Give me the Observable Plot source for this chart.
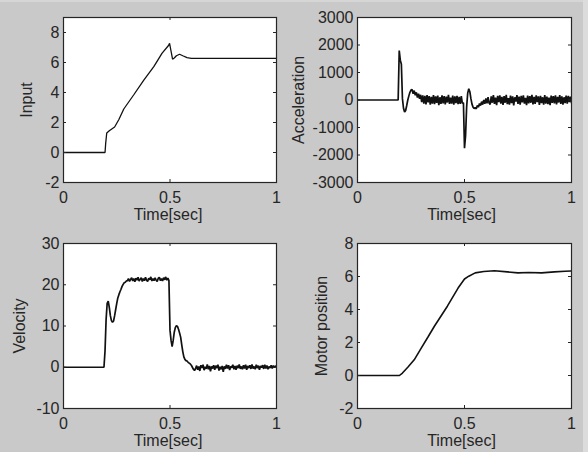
<!DOCTYPE html>
<html><head><meta charset="utf-8">
<script src="https://cdn.jsdelivr.net/npm/d3@7"></script>
<script src="https://cdn.jsdelivr.net/npm/@observablehq/plot@0.6"></script>
<style>
html,body{margin:0;padding:0;background:#c9c9c9;}
#root{position:relative;width:588px;height:452px;background:#c9c9c9;overflow:hidden;}
#root .cell{position:absolute;width:294px;height:226px;}
#edgeR{position:absolute;right:0;top:0;width:5px;height:452px;background:#dcdcdc;}
#edgeT{position:absolute;left:0;top:0;width:588px;height:2px;background:#d6d6d6;}
</style></head><body><div id="root"><div id="edgeT"></div><div id="edgeR"></div></div><script>
// ---------- shared axis data ----------
const xTicks = [0, 0.5, 1];
const xLabel = "Time[sec]";
const yLabels = ["Input", "Acceleration", "Velocity", "Motor position"];
const inputTicks = [-2, 0, 2, 4, 6, 8];
const inputDomain = [-2, 9];
const accTicks = [-3000, -2000, -1000, 0, 1000, 2000, 3000];
const accDomain = [-3000, 3000];
const velTicks = [-10, 0, 10, 20, 30];
const velDomain = [-10, 30];
const posTicks = [-2, 0, 2, 4, 6, 8];
const posDomain = [-2, 8];
const dt = 0.005; // sample period of recorded signals

// ---------- Input (reference) ----------
const inputT = [0, 0.195, 0.198, 0.203, 0.215, 0.24, 0.26, 0.283, 0.33, 0.377, 0.424, 0.463, 0.494, 0.498, 0.503, 0.512, 0.52, 0.53, 0.545, 0.56, 0.58, 0.6, 1.0];
const inputV = [0, 0, 0.6, 1.3, 1.45, 1.7, 2.2, 2.9, 3.85, 4.83, 5.72, 6.62, 7.15, 7.28, 6.9, 6.22, 6.3, 6.45, 6.55, 6.45, 6.32, 6.28, 6.28];

// ---------- Acceleration ----------
const accRestT = [0, 0.19];
const accRest = [0, 0];
const accKick1 = [1800, 1450, 1300, 50, -300, -440, -380, -200, 0, 150, 280, 360, 380, 230, 340, 170, 280, 90, 230, 40]; // from 0.195
const accNoise1 = [190, -80, 170, -130, 150, -160, 180, -90, 140, -170,
  110, -130, 180, -150, 130, -100, 160, -190, 100, -140,
  170, -120, 140, -160, 120, -90, 190, -140, 90, -130,
  160, -170, 130, -110, 150, -150, 110, -140, 140, -120]; // from 0.295
const accKick2 = [-100, -1750, -1300, -250, 250, 410, 300, 50, -150, -260, -310, -280, -320, -200, -260, -130, -200, -60, -170, 0, -140, 60, -120, 100, -110]; // from 0.495
const accNoise2 = [-160, 130, -100, 180, -140, 90, -190, 150, -80, 170,
  -130, 110, -180, 140, -100, 190, -150, 70, -170, 160,
  -110, 130, -200, 100, -60, 180, -140, 120, -170, 150,
  -90, 170, -130, 80, -190, 160, -120, 140, -100, 190,
  -160, 110, -140, 170, -80, 130, -180, 150, -110, 100,
  -170, 180, -130, 120, -150, 90, -190, 160, -100, 140,
  -120, 170, -160, 110, -90, 180, -140, 130, -170, 100,
  -110, 160, -130, 150, -80, 120, -100]; // from 0.62

// ---------- Velocity ----------
const velRestT = [0, 0.19];
const velRest = [0, 0];
const velRise = [4, 11.5, 15.5, 16, 14.5, 12.5, 11.3, 10.9, 11.2, 12.5, 14, 15.5, 16.8, 17.6, 18.3, 18.9, 19.6, 20.1, 20.5, 20.6, 20.9]; // from 0.195
const velPlateau = [21.0, 21.5, 20.8, 21.3, 21.7, 20.9, 21.5, 20.7, 21.6, 21.1,
  21.8, 20.9, 21.3, 21.7, 20.8, 21.5, 21.0, 21.8, 21.1, 20.8,
  21.6, 21.2, 21.9, 20.9, 21.5, 21.0, 21.7, 21.1, 20.8, 21.6,
  21.8, 21.0, 21.5, 20.9, 21.7, 21.2, 21.9, 21.1, 21.6, 21.0]; // from 0.3
const velFall = [9, 6.5, 5, 6.5, 8.5, 9.6, 10.1, 9.9, 9.2, 8.3, 7.3, 5.5, 3.8, 2.5, 1.9, 1.6, 1.5, 1.2, 1.0, 0.8, 0.5, 0.0, -0.5, -0.8]; // from 0.5
const velNoise = [-0.3, 0.4, -0.6, 0.2, -0.9, 0.5, -0.2, 0.6, -0.7, 0.1,
  -0.4, 0.7, -0.5, 0.3, -1.0, 0.2, -0.3, 0.5, -0.6, 0.4,
  -0.2, 0.6, -0.8, 0.1, -0.5, 0.3, -1.1, 0.2, -0.4, 0.6,
  -0.3, 0.5, -0.7, 0.2, -0.1, 0.6, -0.5, 0.3, -0.6, 0.4,
  -0.2, 0.7, -0.4, 0.2, -0.5, 0.5, -0.3, 0.6, -0.6, 0.3,
  -0.2, 0.5, -0.4, 0.7, -0.3, 0.2, -0.5, 0.6, -0.2, 0.4,
  -0.6, 0.3, -0.1, 0.5, -0.4, 0.6, -0.3, 0.4, -0.5, 0.2,
  -0.2, 0.5, -0.3, 0.4, -0.1, 0.3, 0.1]; // from 0.62

// ---------- Motor position ----------
const posT = [0, 0.196, 0.21, 0.235, 0.265, 0.295, 0.33, 0.36, 0.42, 0.47, 0.5, 0.52, 0.55, 0.59, 0.64, 0.7, 0.75, 0.8, 0.86, 0.92, 0.97, 1.0];
const posV = [0, 0, 0.15, 0.5, 0.95, 1.6, 2.35, 3.0, 4.2, 5.3, 5.85, 6.02, 6.22, 6.3, 6.35, 6.28, 6.22, 6.24, 6.22, 6.28, 6.32, 6.33];

// ---------- helpers ----------
const paired = (ts, vs) => ts.map((t, i) => ({t, v: vs[i]}));
const sampled = (start, vs) => vs.map((v, i) => ({t: +(start + i * dt).toFixed(4), v}));

const inputData = paired(inputT, inputV);
const accData = [...paired(accRestT, accRest), ...sampled(0.195, accKick1), ...sampled(0.295, accNoise1), ...sampled(0.495, accKick2), ...sampled(0.62, accNoise2)];
const velData = [...paired(velRestT, velRest), ...sampled(0.195, velRise), ...sampled(0.3, velPlateau), ...sampled(0.5, velFall), ...sampled(0.62, velNoise)];
const posData = paired(posT, posV);

function panel({data, yDomain, yTicks, ylabel, ylabelDx, xlabelDx, strokeWidth, marginRight}) {
  const W = 294, H = 226, mL = 63, mT = 17, mB = 44;
  const ih = H - mT - mB, iw = W - mL - marginRight;
  const ink = "#262626";
  return Plot.plot({
    width: W, height: H,
    marginLeft: mL, marginRight, marginTop: mT, marginBottom: mB,
    style: {background: "transparent", fontFamily: "'Liberation Sans', Arial, sans-serif", fontSize: "16px", color: ink, overflow: "visible"},
    x: {domain: [0, 1]},
    y: {domain: yDomain},
    marks: [
      Plot.frame({fill: "white", stroke: "none"}),
      Plot.line(data, {x: "t", y: "v", stroke: "#111", strokeWidth, strokeLinejoin: "miter", clip: true}),
      Plot.tickX(xTicks, {x: d => d, insetTop: ih - 3, stroke: ink}),
      Plot.tickX(xTicks, {x: d => d, insetBottom: ih - 3, stroke: ink}),
      Plot.tickY(yTicks, {y: d => d, insetRight: iw - 3, stroke: ink}),
      Plot.tickY(yTicks, {y: d => d, insetLeft: iw - 3, stroke: ink}),
      Plot.frame({stroke: ink, strokeWidth: 1.2}),
      Plot.axisX({ticks: xTicks, tickSize: 0, tickPadding: 9, tickFormat: d => String(d), label: null}),
      Plot.axisY({ticks: yTicks, tickSize: 0, tickPadding: 4, tickFormat: d => String(d), label: null}),
      Plot.text([ylabel], {text: d => d, frameAnchor: "left", textAnchor: "middle", lineAnchor: "middle", rotate: -90, dx: ylabelDx, fill: ink}),
      Plot.text([xLabel], {text: d => d, frameAnchor: "bottom", textAnchor: "middle", lineAnchor: "top", dy: 26, dx: xlabelDx, fill: ink})
    ]
  });
}

const specs = [
  {left: 0, top: 0, data: inputData, yDomain: inputDomain, yTicks: inputTicks, ylabel: yLabels[0], ylabelDx: -37, xlabelDx: -2, strokeWidth: 1.3, marginRight: 18},
  {left: 294, top: 0, data: accData, yDomain: accDomain, yTicks: accTicks, ylabel: yLabels[1], ylabelDx: -59, xlabelDx: -3, strokeWidth: 1.7, marginRight: 17},
  {left: 0, top: 226, data: velData, yDomain: velDomain, yTicks: velTicks, ylabel: yLabels[2], ylabelDx: -44, xlabelDx: -2, strokeWidth: 1.7, marginRight: 18},
  {left: 294, top: 226, data: posData, yDomain: posDomain, yTicks: posTicks, ylabel: yLabels[3], ylabelDx: -36, xlabelDx: -3, strokeWidth: 1.6, marginRight: 17}
];

const root = document.getElementById("root");
for (const s of specs) {
  const cell = document.createElement("div");
  cell.className = "cell";
  cell.style.left = s.left + "px";
  cell.style.top = s.top + "px";
  cell.appendChild(panel(s));
  root.appendChild(cell);
}
</script></body></html>
